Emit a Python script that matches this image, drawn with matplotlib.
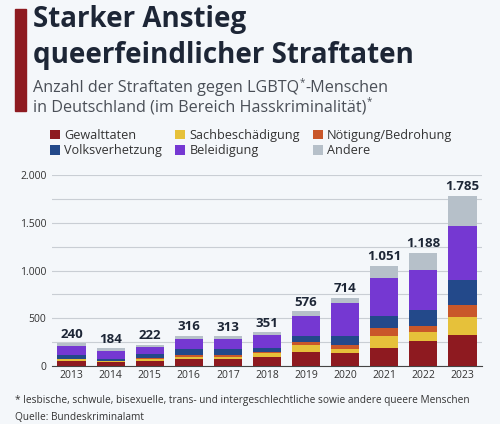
import matplotlib.pyplot as plt
import numpy as np
from matplotlib.patches import Rectangle

years = ["2013", "2014", "2015", "2016", "2017", "2018", "2019", "2020", "2021", "2022", "2023"]
totals = [240, 184, 222, 316, 313, 351, 576, 714, 1051, 1188, 1785]
total_labels = ["240", "184", "222", "316", "313", "351", "576", "714", "1.051", "1.188", "1.785"]

gewalttaten = [53, 40, 56, 77, 74, 98, 148, 134, 187, 264, 324]
sachbeschaedigung = [18, 10, 12, 21, 24, 36, 70, 42, 130, 95, 190]
noetigung = [6, 6, 14, 21, 15, 14, 32, 38, 81, 63, 120]
volksverhetzung = [36, 15, 45, 57, 63, 35, 67, 103, 130, 169, 264]
beleidigung = [98, 84, 66, 106, 106, 144, 211, 338, 394, 415, 573]
andere = [29, 29, 29, 34, 31, 24, 48, 59, 129, 182, 314]

series = [
    ("Gewalttaten", gewalttaten, "#8e1a20"),
    ("Sachbeschädigung", sachbeschaedigung, "#e6c13a"),
    ("Nötigung/Bedrohung", noetigung, "#c9572a"),
    ("Volksverhetzung", volksverhetzung, "#23498a"),
    ("Beleidigung", beleidigung, "#7538d2"),
    ("Andere", andere, "#b6c0c9"),
]

bg = "#f4f7fa"
dark = "#1d2636"
W, H = 500, 424
plt.rcParams['font.family'] = ['Open Sans', 'DejaVu Sans']


def fx(px):
    return px / W


def fy(py):
    return 1 - py / H


fig = plt.figure(figsize=(5, 4.24), dpi=100, facecolor=bg)
ax = fig.add_axes([0.104, 0.137, 0.86, 0.45], facecolor=bg)

x = np.arange(len(years))
bottom = np.zeros(len(years))
for name, vals, col in series:
    ax.bar(x, vals, 0.72, bottom=bottom, color=col, label=name, zorder=3)
    bottom += np.array(vals)

for xi, t, lab in zip(x, totals, total_labels):
    ax.text(xi, t + 25, lab, ha='center', va='bottom', fontsize=9.5,
            fontweight='bold', color=dark)

ax.set_ylim(0, 2000)
ax.set_xlim(-0.5, len(years) - 0.5)
ax.set_yticks(np.arange(0, 2001, 250))
ax.set_yticklabels(["0" if v == 0 else (f"{v:,}".replace(",", ".") if v % 500 == 0 else "")
                    for v in range(0, 2001, 250)])
ax.grid(axis='y', color='#c9ced4', linewidth=0.8, zorder=0)
ax.tick_params(axis='y', length=0, labelsize=7.5, colors='#333333', pad=4)
ax.tick_params(axis='x', length=0, labelsize=7.5, colors='#333333', pad=3)
ax.set_xticks(x)
ax.set_xticklabels(years)
for s in ['top', 'right', 'left']:
    ax.spines[s].set_visible(False)
ax.spines['bottom'].set_color('#444444')
ax.spines['bottom'].set_linewidth(0.8)

# red title bar
fig.patches.append(Rectangle((fx(15), fy(111)), 11 / W, 102 / H,
                             transform=fig.transFigure, color="#8e1a20"))

fig.text(fx(33), fy(27), "Starker Anstieg", fontsize=20, fontweight='bold',
         color=dark, va='baseline')
fig.text(fx(33), fy(63), "queerfeindlicher Straftaten", fontsize=20,
         fontweight='bold', color=dark, va='baseline')

renderer = fig.canvas.get_renderer()
sub_lines = [("Anzahl der Straftaten gegen LGBTQ", "-Menschen", 92),
             ("in Deutschland (im Bereich Hasskriminalität)", "", 111)]
for pre, post, base in sub_lines:
    t = fig.text(fx(33), fy(base), pre, fontsize=11.6, color='#4a4f57', va='baseline')
    bb = t.get_window_extent(renderer)
    x_end = bb.x1 / fig.dpi / fig.get_figwidth()
    star = fig.text(x_end + 0.001, fy(base - 7), "*", fontsize=7, color='#4a4f57',
                    va='baseline')
    if post:
        sb = star.get_window_extent(renderer)
        fig.text(sb.x1 / fig.dpi / fig.get_figwidth() + 0.001, fy(base), post,
                 fontsize=11.6, color='#4a4f57', va='baseline')

handles, labels = ax.get_legend_handles_labels()
order = [0, 3, 1, 4, 2, 5]
fig.legend([handles[i] for i in order], [labels[i] for i in order], ncol=3,
           loc='upper left', bbox_to_anchor=(fx(41), fy(120)), frameon=False,
           fontsize=9.1, handlelength=0.8, handleheight=0.8, handletextpad=0.35,
           columnspacing=1.0, labelspacing=0.2, labelcolor='#333333',
           borderpad=0.2)

fig.text(fx(15), fy(401),
         "* lesbische, schwule, bisexuelle, trans- und intergeschlechtliche sowie andere queere Menschen",
         fontsize=7.3, color='#333333', va='center')
fig.text(fx(15), fy(417), "Quelle: Bundeskriminalamt", fontsize=7.3,
         color='#333333', va='center')

fig.savefig("out.png", dpi=100, facecolor=bg)
